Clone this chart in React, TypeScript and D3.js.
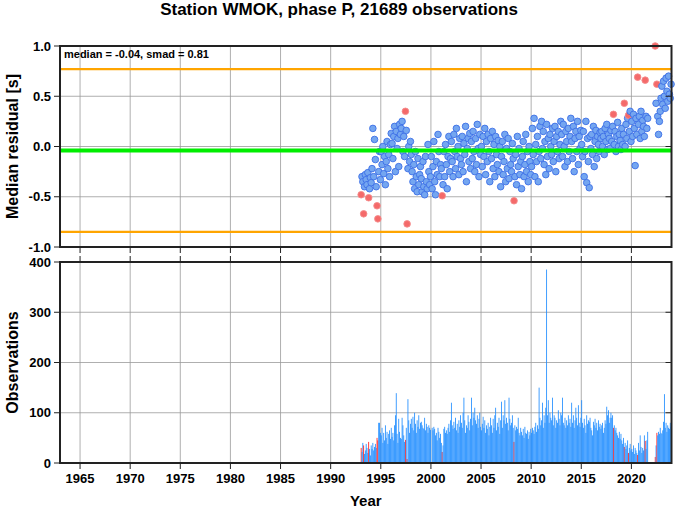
import React from "react";
import * as d3 from "d3";

const TITLE = "Station WMOK, phase P, 21689 observations";
const START_YEAR = 1993; // first month of the monthly series
const MEDIAN = -0.04;
const SMAD = 0.81;
const yearTicks = [1965, 1970, 1975, 1980, 1985, 1990, 1995, 2000, 2005, 2010, 2015, 2020];
const residualTicks = [-1.0, -0.5, 0.0, 0.5, 1.0];
const countTicks = [0, 100, 200, 300, 400];

// monthly median residuals (null = no data)
const residuals: (number | null)[] = [
  -0.48, -0.30, -0.35, -0.67, -0.40, -0.28, -0.33, -0.38, -0.26, -0.51, -0.42, -0.31,
  -0.36, -0.22, 0.18, -0.30, 0.07, -0.13, -0.40, -0.59, -0.72, -0.25, -0.05, -0.33,
  -0.05, -0.18, 0.0, -0.27, -0.10, -0.38, -0.15, 0.05, -0.22, -0.08, -0.30, 0.02,
  0.13, 0.03, -0.12, 0.10, 0.20, -0.25, 0.15, -0.02, 0.08, -0.20, 0.22, 0.12,
  0.18, 0.25, -0.05, 0.10, -0.10, 0.35, 0.16, -0.77, -0.22, 0.00, -0.15, 0.05,
  -0.08, -0.25, -0.35, -0.18, -0.42, -0.05, -0.30, -0.45, -0.12, -0.38, -0.28, -0.20,
  -0.32, -0.45, -0.15, -0.40, -0.48, -0.10, -0.35, -0.42, 0.02, -0.25, -0.38, -0.30,
  -0.10, -0.42, -0.20, 0.05, -0.35, -0.48, -0.15, -0.28, 0.12, -0.05, -0.30, -0.18,
  -0.22, -0.49, -0.38, -0.05, -0.30, 0.02, -0.18, -0.42, -0.10, 0.10, -0.25, -0.12,
  0.05, -0.15, -0.30, 0.12, -0.05, -0.22, 0.18, -0.10, 0.00, -0.28, 0.08, -0.12,
  -0.18, 0.10, -0.25, 0.03, -0.08, 0.20, -0.35, -0.02, 0.08, -0.15, 0.13, -0.22,
  0.05, -0.12, 0.15, -0.05, -0.25, 0.08, -0.18, 0.22, -0.02, -0.30, 0.12, -0.08,
  0.00, -0.20, 0.10, -0.10, 0.18, -0.28, 0.05, -0.15, 0.12, -0.05, -0.35, 0.08,
  -0.12, 0.15, -0.22, 0.02, -0.30, 0.10, -0.08, -0.18, 0.06, -0.25, 0.00, -0.40,
  -0.10, 0.05, -0.28, -0.15, 0.12, -0.35, -0.02, -0.22, 0.08, -0.32, -0.05, -0.18,
  -0.25, 0.03, -0.12, -0.54, -0.30, -0.08, -0.38, 0.10, -0.20, -0.02, -0.28, -0.15,
  -0.42, -0.10, 0.05, -0.30, -0.18, 0.12, -0.25, -0.05, -0.35, 0.00, -0.15, -0.28,
  -0.20, 0.18, -0.08, 0.28, -0.30, 0.02, -0.15, 0.10, -0.35, -0.05, 0.20, -0.12,
  0.25, -0.02, 0.15, -0.18, 0.05, -0.28, 0.22, -0.10, 0.08, -0.22, 0.12, 0.00,
  -0.08, 0.18, -0.15, 0.05, 0.20, -0.25, 0.10, -0.05, 0.15, -0.12, 0.02, 0.25,
  0.12, -0.10, 0.22, 0.00, -0.20, 0.15, 0.05, -0.15, 0.18, -0.05, 0.10, 0.28,
  0.05, -0.12, 0.20, -0.25, 0.08, 0.15, -0.05, 0.25, -0.18, 0.10, -0.02, 0.16,
  0.02, -0.10, 0.15, -0.30, -0.05, 0.25, -0.36, 0.08, -0.15, -0.41, 0.10, -0.02,
  0.12, -0.08, 0.20, -0.20, 0.05, 0.16, -0.12, 0.10, 0.02, -0.05, 0.14, 0.08,
  0.15, 0.00, 0.10, -0.08, 0.18, 0.05, 0.22, -0.03, 0.12, 0.08, -0.02, 0.16,
  0.05, 0.20, 0.32, 0.02, 0.15, -0.05, 0.10, 0.24, 0.00, 0.12, 0.06, -0.03,
  0.18, 0.02, 0.12, 0.43, 0.00, 0.22, 0.08, 0.28, 0.31, 0.15, 0.35, 0.05,
  0.25, 0.10, 0.32, 0.18, -0.19, 0.28, 0.12, 0.69, 0.22, 0.30, 0.08, 0.35,
  0.15, 0.26, 0.20, 0.10, 0.66, 0.30, 0.18, 0.28, null, null, null, null,
  null, null, null, null, 1.0, 0.43, 0.62, 0.30, 0.12, 0.25, 0.35, 0.48,
  0.60, 0.42, 0.65, 0.50, 0.38, 0.68, 0.55, 0.45, 0.70, 0.52, 0.48, 0.62,
];

// monthly observation counts
const counts: number[] = [
  30, 22, 40, 35, 18, 25, 38, 30, 20, 42, 28, 15,
  35, 28, 40, 25, 32, 38, 30, 50, 45, 80, 80, 60,
  55, 70, 40, 60, 45, 75, 50, 62, 38, 58, 65, 48,
  70, 52, 60, 45, 75, 95, 139, 58, 40, 88, 62, 50,
  48, 90, 75, 55, 42, 46, 70, 8, 127, 85, 60, 78,
  88, 70, 92, 65, 100, 78, 60, 85, 72, 95, 68, 80,
  82, 75, 70, 68, 90, 65, 78, 72, 60, 75, 70, 66,
  2, 70, 65, 72, 68, 55, 60, 45, 70, 62, 50, 58,
  40, 22, 35, 68, 72, 60, 65, 58, 70, 78, 62, 85,
  120, 75, 68, 82, 70, 90, 65, 78, 60, 85, 72, 95,
  80, 70, 100, 130, 85, 60, 75, 70, 95, 82, 65, 88,
  130, 75, 100, 90, 110, 85, 78, 95, 70, 88, 100, 72,
  65, 78, 92, 70, 85, 60, 75, 68, 80, 55, 72, 90,
  75, 60, 88, 70, 95, 110, 65, 80, 72, 90, 58, 85,
  122, 70, 95, 85, 125, 78, 90, 80, 65, 130, 88, 75,
  80, 95, 70, 42, 75, 65, 72, 68, 90, 60, 55, 70,
  62, 55, 68, 50, 72, 60, 58, 65, 48, 62, 55, 68,
  60, 70, 65, 58, 72, 80, 62, 75, 68, 150, 90, 75,
  85, 120, 70, 95, 80, 110, 385, 95, 125, 80, 100, 90,
  85, 130, 75, 95, 90, 70, 85, 80, 105, 88, 75, 100,
  95, 130, 80, 75, 90, 70, 85, 75, 95, 80, 88, 72,
  120, 80, 95, 70, 85, 110, 90, 75, 115, 80, 72, 90,
  125, 80, 70, 88, 75, 60, 95, 78, 85, 82, 90, 70,
  65, 55, 82, 75, 88, 70, 80, 65, 85, 72, 78, 68,
  75, 80, 60, 70, 85, 78, 112, 95, 105, 80, 90, 100,
  90, 95, 70, 75, 65, 70, 60, 55, 50, 62, 48, 58,
  45, 38, 50, 32, 40, 28, 35, 45, 20, 30, 38, 25,
  28, 22, 35, 18, 30, 25, 20, 16, 40, 25, 55, 32,
  20, 30, 25, 55, 44, 28, 45, 62, 0, 0, 0, 0,
  0, 0, 0, 0, 12, 35, 60, 55, 62, 58, 70, 60,
  58, 65, 82, 137, 70, 80, 62, 75, 70, 68, 80, 72,
];

// month indices flagged as outliers (drawn red)
const flaggedMonths = [0, 3, 9, 19, 20, 53, 55, 97, 183, 302, 315, 320, 331, 340, 352, 354];

const W = 678;
const H = 511;
const L = 60;
const R = 671.5;
const TOP1 = 46;
const BOT1 = 247;
const TOP2 = 262;
const BOT2 = 463;
const FONT = "'Liberation Sans', Arial, Helvetica, sans-serif";

export default function App() {
  const x = d3.scaleLinear().domain([1963, 2024]).range([L, R]);
  const yr = d3.scaleLinear().domain([-1, 1]).range([BOT1, TOP1]);
  const yc = d3.scaleLinear().domain([0, 400]).range([BOT2, TOP2]);
  const flagged = new Set(flaggedMonths);
  const monthStart = (i: number) => START_YEAR + i / 12;

  const grid = "#9a9a9a";
  const frame = "#222";

  return (
    <svg width={W} height={H} style={{ position: "absolute", left: 0, top: 0, background: "#fff" }} fontFamily={FONT}>
      <rect x={0} y={0} width={W} height={H} fill="#fff" />
      <text x={W / 2} y={15} textAnchor="middle" fontSize={17} fontWeight="bold">{TITLE}</text>

      {/* ---------- top panel ---------- */}
      <g>
        {yearTicks.map((t) => (
          <line key={"gx1" + t} x1={x(t)} x2={x(t)} y1={TOP1} y2={BOT1} stroke={grid} strokeWidth={0.8} />
        ))}
        {residualTicks.slice(1, -1).map((t) => (
          <line key={"gy1" + t} x1={L} x2={R} y1={yr(t)} y2={yr(t)} stroke={grid} strokeWidth={0.8} />
        ))}
        {residuals.map((v, i) =>
          v === null ? null : (
            <circle
              key={"p" + i}
              cx={x(monthStart(i) + 1 / 24)}
              cy={yr(v)}
              r={3.3}
              fill={flagged.has(i) ? "#f46a6a" : "#74a6f0"}
              stroke={flagged.has(i) ? "#f58a8a" : "#3d6fe6"}
              strokeWidth={0.9}
            />
          )
        )}
        <line x1={L} x2={R} y1={yr(MEDIAN + SMAD)} y2={yr(MEDIAN + SMAD)} stroke="#ffa500" strokeWidth={2.2} />
        <line x1={L} x2={R} y1={yr(MEDIAN - SMAD)} y2={yr(MEDIAN - SMAD)} stroke="#ffa500" strokeWidth={2.2} />
        <line x1={L} x2={R} y1={yr(MEDIAN)} y2={yr(MEDIAN)} stroke="#00ee00" strokeWidth={4} />
        <text x={64} y={58} fontSize={11} fontWeight="bold">median = -0.04, smad = 0.81</text>
        <rect x={L} y={TOP1} width={R - L} height={BOT1 - TOP1} fill="none" stroke={frame} strokeWidth={2} />
        {residualTicks.map((t) => (
          <g key={"ty1" + t}>
            <line x1={L - 6} x2={L} y1={yr(t)} y2={yr(t)} stroke={frame} strokeWidth={1} />
            <line x1={R - 6} x2={R} y1={yr(t)} y2={yr(t)} stroke={frame} strokeWidth={1} />
            <text x={51} y={yr(t) + 4.5} textAnchor="end" fontSize={13} fontWeight="bold">{t.toFixed(1)}</text>
          </g>
        ))}
        {yearTicks.map((t) => (
          <line key={"tx1" + t} x1={x(t)} x2={x(t)} y1={BOT1} y2={BOT1 + 6} stroke={frame} strokeWidth={1} />
        ))}
        <text transform={`translate(18, ${(TOP1 + BOT1) / 2}) rotate(-90)`} textAnchor="middle" fontSize={16} fontWeight="bold">Median residual [s]</text>
      </g>

      {/* ---------- bottom panel ---------- */}
      <g>
        {yearTicks.map((t) => (
          <line key={"gx2" + t} x1={x(t)} x2={x(t)} y1={TOP2} y2={BOT2} stroke={grid} strokeWidth={0.8} />
        ))}
        {countTicks.slice(1, -1).map((t) => (
          <line key={"gy2" + t} x1={L} x2={R} y1={yc(t)} y2={yc(t)} stroke={grid} strokeWidth={0.8} />
        ))}
        {counts.map((c, i) =>
          c <= 0 ? null : (
            <rect
              key={"b" + i}
              x={x(monthStart(i))}
              y={yc(c)}
              width={x(monthStart(i + 1)) - x(monthStart(i))}
              height={yc(0) - yc(c)}
              fill={flagged.has(i) ? "#ff1a1a" : "#1e8cff"}
            />
          )
        )}
        <rect x={L} y={TOP2} width={R - L} height={BOT2 - TOP2} fill="none" stroke={frame} strokeWidth={2} />
        {countTicks.map((t) => (
          <g key={"ty2" + t}>
            <line x1={L - 6} x2={L} y1={yc(t)} y2={yc(t)} stroke={frame} strokeWidth={1} />
            <line x1={R - 6} x2={R} y1={yc(t)} y2={yc(t)} stroke={frame} strokeWidth={1} />
            <text x={51} y={yc(t) + 4.5} textAnchor="end" fontSize={13} fontWeight="bold">{t}</text>
          </g>
        ))}
        {yearTicks.map((t) => (
          <g key={"tx2" + t}>
            <line x1={x(t)} x2={x(t)} y1={TOP2 - 6} y2={TOP2} stroke={frame} strokeWidth={1} />
            <line x1={x(t)} x2={x(t)} y1={BOT2} y2={BOT2 + 6} stroke={frame} strokeWidth={1} />
            <text x={x(t)} y={483} textAnchor="middle" fontSize={13} fontWeight="bold">{t}</text>
          </g>
        ))}
        <text transform={`translate(18, ${(TOP2 + BOT2) / 2}) rotate(-90)`} textAnchor="middle" fontSize={16} fontWeight="bold">Observations</text>
        <text x={(L + R) / 2} y={506} textAnchor="middle" fontSize={15} fontWeight="bold">Year</text>
      </g>
    </svg>
  );
}
